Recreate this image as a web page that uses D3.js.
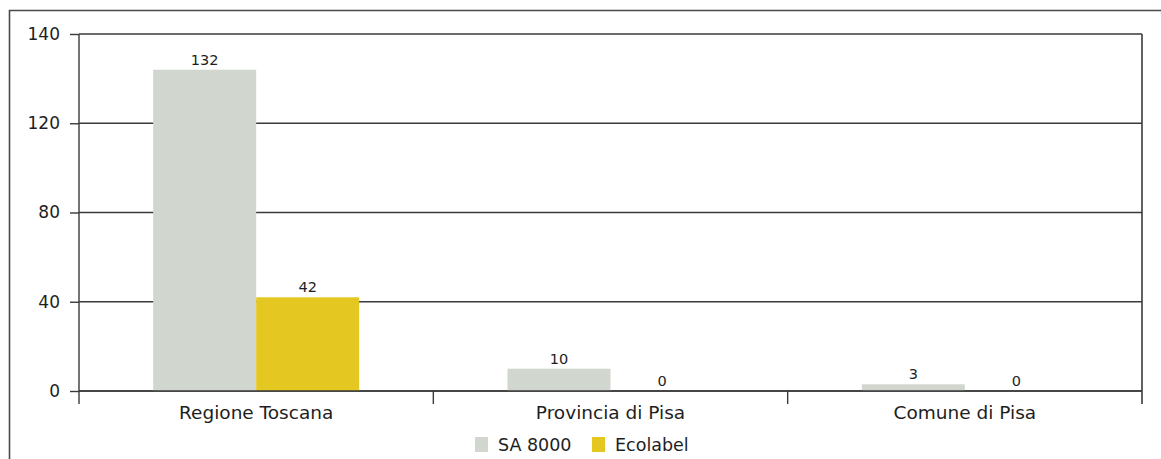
<!DOCTYPE html>
<html>
<head>
<meta charset="utf-8">
<script src="https://cdn.jsdelivr.net/npm/d3@7"></script>
<style>
  html, body { margin: 0; padding: 0; background: #fff; }
  svg { display: block; font-family: "DejaVu Sans", "Liberation Sans", Arial, sans-serif; }
</style>
</head>
<body>
<svg id="chart" width="1161" height="459"></svg>
<script>
const categories = ["Regione Toscana", "Provincia di Pisa", "Comune di Pisa"];
const seriesNames = ["SA 8000", "Ecolabel"];
const sa8000 = [132, 10, 3];
const ecolabel = [42, 0, 0];
const yTicks = [0, 40, 80, 120, 140];
const colors = ["#d1d6cf", "#e5c722"];

const seriesValues = [sa8000, ecolabel];
const data = categories.map((c, i) => ({
  category: c,
  values: seriesNames.map((s, j) => ({ series: s, value: seriesValues[j][i] }))
}));

const svg = d3.select("#chart");
const plot = { left: 79, right: 1142, top: 34, bottom: 391 };
const lineColor = "#3a3a3a";
const textColor = "#1e1e1e";

// outer frame (open on right/bottom edges of picture)
svg.append("path")
  .attr("d", "M9.5,470 L9.5,10.5 L1170,10.5")
  .attr("fill", "none").attr("stroke", "#4a4a4a").attr("stroke-width", 1.6);

// y scale: ticks equally spaced as in the reference
const y = d3.scaleLinear()
  .domain(yTicks)
  .range(yTicks.map((t, i) => plot.bottom - i * (plot.bottom - plot.top) / (yTicks.length - 1)));

const x = d3.scaleBand().domain(categories).range([plot.left, plot.right]).padding(0);
const xs = d3.scaleBand().domain(seriesNames).range([0, x.bandwidth()]).paddingInner(0).paddingOuter(0.72);

// gridlines + y ticks
const yAxis = d3.axisLeft(y).tickValues(yTicks).tickSize(9).tickPadding(10).tickFormat(d3.format("d"));
const gy = svg.append("g").attr("transform", `translate(${plot.left},0)`).call(yAxis);
gy.select(".domain").remove();
gy.selectAll(".tick line").attr("stroke", lineColor).attr("stroke-width", 1.4);
gy.selectAll(".tick text").attr("fill", textColor).style("font-size", "17px")
  .style("font-family", "'DejaVu Sans', sans-serif");

svg.append("g").selectAll("line").data(yTicks).join("line")
  .attr("x1", plot.left).attr("x2", plot.right)
  .attr("y1", d => y(d)).attr("y2", d => y(d))
  .attr("stroke", lineColor).attr("stroke-width", 1.4);

// bars
const groups = svg.append("g").selectAll("g").data(data).join("g")
  .attr("transform", d => `translate(${x(d.category)},0)`);

groups.selectAll("rect").data(d => d.values).join("rect")
  .attr("x", d => xs(d.series))
  .attr("width", xs.bandwidth())
  .attr("y", d => y(d.value))
  .attr("height", d => y(0) - y(d.value))
  .attr("fill", (d, i) => colors[i]);

// redraw baseline on top
svg.append("line")
  .attr("x1", plot.left).attr("x2", plot.right)
  .attr("y1", y(0)).attr("y2", y(0))
  .attr("stroke", lineColor).attr("stroke-width", 1.4);

groups.selectAll("text.val").data(d => d.values).join("text")
  .attr("class", "val")
  .attr("x", d => xs(d.series) + xs.bandwidth() / 2)
  .attr("y", d => y(d.value) - 5)
  .attr("text-anchor", "middle")
  .attr("fill", textColor)
  .style("font-size", "14.5px")
  .text(d => d.value);

// y axis line and right border
svg.append("line").attr("x1", plot.left).attr("x2", plot.left)
  .attr("y1", plot.top).attr("y2", 404).attr("stroke", lineColor).attr("stroke-width", 1.4);
svg.append("line").attr("x1", plot.right).attr("x2", plot.right)
  .attr("y1", plot.top).attr("y2", 404).attr("stroke", lineColor).attr("stroke-width", 1.6);

// x axis ticks at category boundaries
const xAxis = d3.axisBottom(x).tickSize(0).tickPadding(15);
const gx = svg.append("g").attr("transform", `translate(0,${plot.bottom})`).call(xAxis);
gx.select(".domain").remove();
gx.selectAll(".tick text").attr("fill", textColor).style("font-size", "18.5px")
  .style("font-family", "'DejaVu Sans', sans-serif");

const boundaries = categories.slice(1).map(c => x(c));
svg.append("g").selectAll("line").data(boundaries).join("line")
  .attr("x1", d => d).attr("x2", d => d)
  .attr("y1", plot.bottom).attr("y2", 404)
  .attr("stroke", lineColor).attr("stroke-width", 1.4);

// legend
const legend = svg.append("g").attr("transform", "translate(475,437)");
const legendOffsets = [0, 117];
seriesNames.forEach((s, i) => {
  const g = legend.append("g").attr("transform", `translate(${legendOffsets[i]},0)`);
  g.append("rect").attr("width", 13).attr("height", 15).attr("fill", colors[i]);
  g.append("text").attr("x", 23).attr("y", 14).attr("fill", textColor)
    .style("font-size", "17.5px").text(s);
});
</script>
</body>
</html>
